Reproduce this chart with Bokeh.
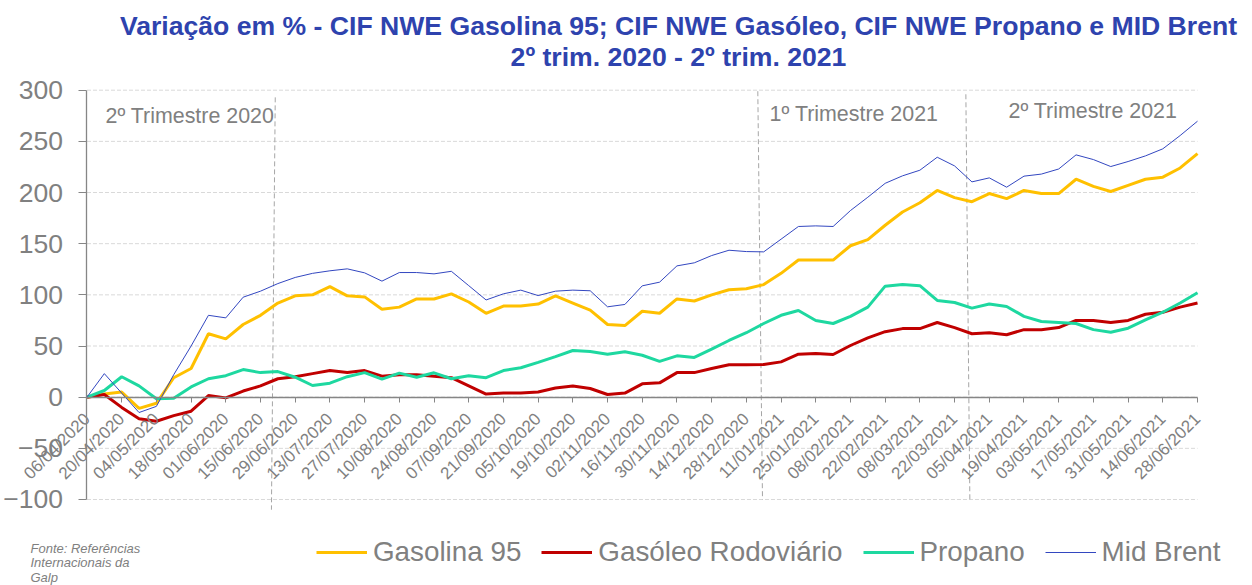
import math
from bokeh.plotting import figure
from bokeh.models import (Range1d, FixedTicker, Legend, LegendItem, Label)
from bokeh.core.properties import value
from bokeh.embed import file_html
from bokeh.resources import INLINE

# ---------------- data ----------------
tick_labels = ["06/04/2020", "20/04/2020", "04/05/2020", "18/05/2020", "01/06/2020",
               "15/06/2020", "29/06/2020", "13/07/2020", "27/07/2020", "10/08/2020",
               "24/08/2020", "07/09/2020", "21/09/2020", "05/10/2020", "19/10/2020",
               "02/11/2020", "16/11/2020", "30/11/2020", "14/12/2020", "28/12/2020",
               "11/01/2021", "25/01/2021", "08/02/2021", "22/02/2021", "08/03/2021",
               "22/03/2021", "05/04/2021", "19/04/2021", "03/05/2021", "17/05/2021",
               "31/05/2021", "14/06/2021", "28/06/2021"]

gasolina = [0, 3, 5, -11, -6, 19, 28, 62, 57, 71, 80, 92, 99, 100, 108, 99, 98, 86, 88, 96,
            96, 101, 93, 82, 89, 89, 91, 99, 92, 85, 71, 70, 84, 82, 96, 94, 100, 105, 106, 110,
            121, 134, 134, 134, 148, 154, 168, 181, 190, 202, 195, 191, 199, 194, 202, 199, 199,
            213, 206, 201, 207, 213, 215, 224, 238]
gasoleo = [0, 2.6, -10, -21, -23.5, -18, -13.7, 1.6, -0.7, 6, 11, 18, 20, 23, 26, 24, 26, 20.5, 22, 22,
           20.5, 19, 11, 3, 4, 4, 5, 9, 11, 8.5, 2.6, 4, 13, 14, 24, 24, 28, 31.6, 31.6, 32,
           34.5, 42, 42.7, 41.7, 50.5, 58, 64, 67, 67, 73, 68, 62, 63, 61, 66, 66, 68,
           75, 75, 73, 75, 81, 83, 88, 92]
propano = [0, 6.5, 20, 11, -1.6, -1, 10, 18, 21, 27, 24, 25, 19.5, 11.4, 13.7, 20, 24, 17.6, 23.5, 19.5,
           23.8, 18, 21, 19, 26, 28.7, 34, 39.7, 45.6, 44.6, 42, 44.3, 41, 35, 40.4, 38.8, 47, 55.4, 63, 72,
           80, 84.7, 75, 72, 79, 88, 108.5, 110, 109, 94.5, 92.5, 87, 91, 88.6, 79, 74, 73,
           72, 66, 63.5, 67.4, 75.6, 83, 92, 102]
brent = [0, 23, 4, -15, -9, 22, 50, 80, 77.5, 97.7, 103.6, 111, 117, 121, 123.5, 125.4, 121.5, 113.4, 121.8, 121.8,
         120.5, 123, 109, 95, 101, 104.6, 99.3, 103.6, 104.6, 104, 88.3, 90.6, 108.8, 112.4, 128.3, 131.3, 138.4, 143.6, 142.3, 142,
         154.4, 166.8, 167.4, 166.8, 182.4, 195.4, 209, 216.3, 221.8, 234.5, 226, 210.4, 214.3, 205.2, 216, 218, 223,
         236.8, 232.2, 225.4, 230.3, 235.8, 242.7, 255.7, 269.7]
weeks = list(range(len(gasolina)))

series_names = ["Gasolina 95", "Gasóleo Rodoviário", "Propano", "Mid Brent"]
series_colors = ["#FFC000", "#C00000", "#1ED8A0", "#3347C0"]
series_widths = [3, 3, 3, 1]

y_ticks = [-100, -50, 0, 50, 100, 150, 200, 250, 300]

# quarter dividers (week index, top/bottom) and labels
div_x0 = [10.85, 38.66, 50.65]
div_x1 = [10.63, 38.93, 50.88]
div_y0 = [293, 299, 296]
div_y1 = [-110, -100, -100]
quarter_text = ["2º Trimestre 2020", "1º Trimestre 2021", "2º Trimestre 2021"]
quarter_x = [1.07, 39.34, 53.11]
quarter_y = [274.6, 276.6, 279.5]

title_lines = ["Variação em % - CIF NWE Gasolina 95; CIF NWE Gasóleo, CIF NWE Propano e MID Brent",
               "2º trim. 2020 - 2º trim. 2021"]
source_lines = ["Fonte: Referências", "Internacionais da", "Galp"]

FONT = "Liberation Sans"
GREY = "#808080"
AXIS = "#868686"

W, H = 1252, 585
p = figure(width=W, height=H, output_backend="svg", toolbar_location=None,
           x_range=Range1d(-4.984, 67.169), y_range=Range1d(-184.05, 387.66),
           min_border_left=0, min_border_right=0, min_border_top=0, min_border_bottom=0)
p.outline_line_color = None
p.background_fill_color = "white"
p.xgrid.visible = False
p.ygrid.visible = False

# horizontal dashed grid lines
p.segment(x0=[0] * len(y_ticks), x1=[64] * len(y_ticks), y0=y_ticks, y1=y_ticks,
          line_color="#D9D9D9", line_dash="4 2", line_width=1)

# y axis (fixed at x = 0)
ya = p.yaxis[0]
ya.fixed_location = 0
ya.bounds = (-100, 300)
ya.ticker = FixedTicker(ticks=y_ticks)
ya.major_label_text_font = FONT
ya.major_label_text_font_size = "26.5px"
ya.major_label_text_color = GREY
ya.axis_line_color = AXIS
ya.axis_line_width = 1.3
ya.major_tick_line_color = AXIS
ya.major_tick_out = 8
ya.major_tick_in = 0
ya.minor_tick_line_color = None
ya.major_label_standoff = 16

# x axis at y = 0
xa = p.xaxis[0]
xa.fixed_location = 0
xa.bounds = (0, 64)
xa.ticker = FixedTicker(ticks=list(range(0, 65, 2)))
xa.major_label_overrides = {i * 2: lab for i, lab in enumerate(tick_labels)}
xa.major_label_orientation = math.pi / 4
xa.major_label_text_font = FONT
xa.major_label_text_font_size = "17px"
xa.major_label_text_color = GREY
xa.axis_line_color = AXIS
xa.axis_line_width = 1.3
xa.major_tick_line_color = AXIS
xa.major_tick_out = 5
xa.major_tick_in = 0
xa.minor_tick_line_color = None
xa.major_label_standoff = 14

# dividers and quarter labels
p.segment(x0=div_x0, y0=div_y0, x1=div_x1, y1=div_y1, line_color="#A6A6A6",
          line_dash="5 3", line_width=1)
p.text(x=quarter_x, y=quarter_y, text=quarter_text, text_font=value(FONT),
       text_font_size="21.4px", text_color=GREY, text_baseline="alphabetic", text_align="left")

items = []
for name, col, w, ys in zip(series_names, series_colors, series_widths,
                            [gasolina, gasoleo, propano, brent]):
    r = p.line(weeks, ys, line_color=col, line_width=w)
    items.append(LegendItem(label=name, renderers=[r]))

legend = Legend(items=items, orientation="horizontal", location=(316, 17),
                glyph_width=51, label_standoff=6, spacing=20, padding=0, margin=0,
                label_text_font=FONT, label_text_font_size="27.8px", label_text_color=GREY,
                border_line_color=None, background_fill_alpha=0)
p.add_layout(legend, "center")

# titles (screen coords measured from bottom-left)
for txt, yy in zip(title_lines, [H - 25.3, H - 56]):
    p.add_layout(Label(x=678, y=yy, x_units="screen", y_units="screen", text=txt,
                       text_font=FONT, text_font_style="bold", text_font_size="26.6px",
                       text_color="#2E43AE", text_align="center", text_baseline="alphabetic"))

for txt, yy in zip(source_lines, [H - 547.5, H - 562, H - 576.5]):
    p.add_layout(Label(x=30, y=yy, x_units="screen", y_units="screen", text=txt,
                       text_font=FONT, text_font_style="italic", text_font_size="13px",
                       text_color=GREY, text_align="left", text_baseline="alphabetic"))

open("out.html", "w").write(file_html(p, INLINE))
